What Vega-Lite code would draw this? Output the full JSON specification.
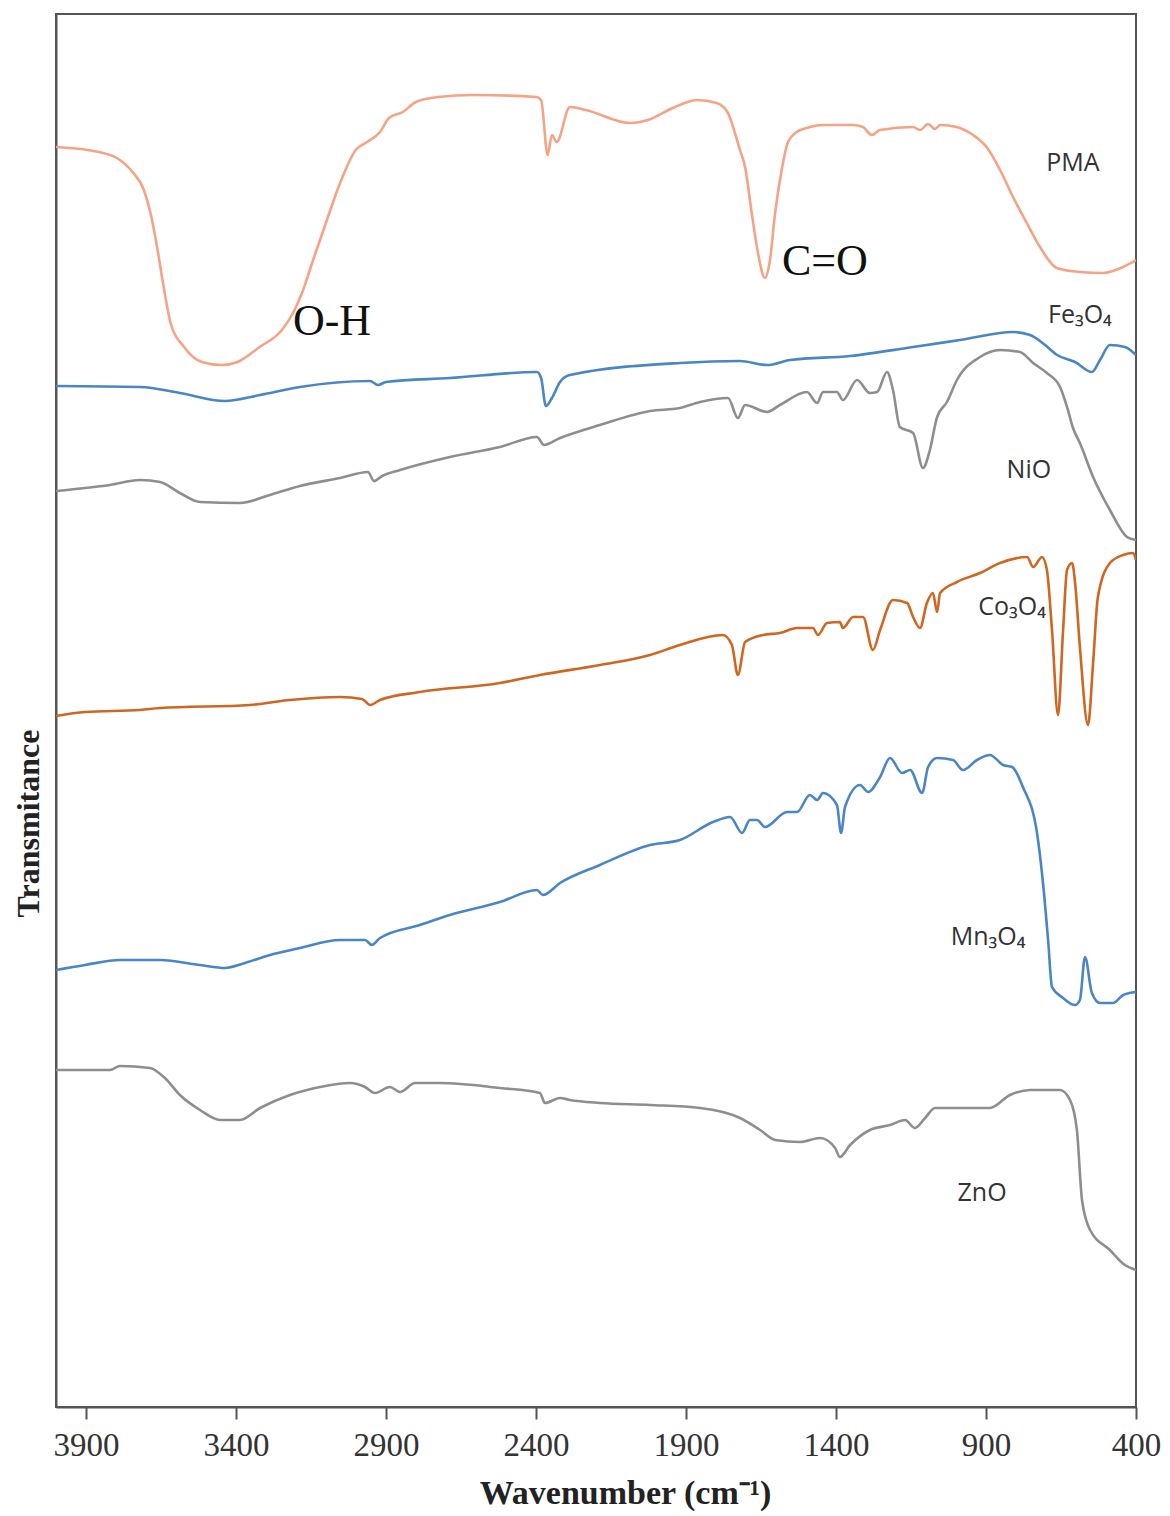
{
  "$schema": "https://vega.github.io/schema/vega-lite/v6.json",
  "width": 1080,
  "height": 1393,
  "autosize": "none",
  "padding": {"left": 56, "top": 14, "right": 34, "bottom": 109},
  "background": "white",
  "config": {
    "view": {"stroke": "#555555", "strokeWidth": 2},
    "axis": {"grid": false}
  },
  "datasets": {
    "spectra": [
      {"s":"PMA","w":4000,"v":1260},{"s":"PMA","w":3857,"v":1255},{"s":"PMA","w":3797,"v":1249},{"s":"PMA","w":3745,"v":1235},{"s":"PMA","w":3707,"v":1217},{"s":"PMA","w":3685,"v":1194},{"s":"PMA","w":3663,"v":1160},{"s":"PMA","w":3641,"v":1120},{"s":"PMA","w":3618,"v":1084},{"s":"PMA","w":3573,"v":1060},{"s":"PMA","w":3514,"v":1045},{"s":"PMA","w":3447,"v":1042},{"s":"PMA","w":3395,"v":1045},{"s":"PMA","w":3321,"v":1060},{"s":"PMA","w":3247,"v":1077},{"s":"PMA","w":3210,"v":1094},{"s":"PMA","w":3180,"v":1114},{"s":"PMA","w":3143,"v":1147},{"s":"PMA","w":3097,"v":1187},{"s":"PMA","w":3053,"v":1224},{"s":"PMA","w":3001,"v":1257},{"s":"PMA","w":2963,"v":1265},{"s":"PMA","w":2920,"v":1275},{"s":"PMA","w":2890,"v":1289},{"s":"PMA","w":2844,"v":1295},{"s":"PMA","w":2800,"v":1305},{"s":"PMA","w":2727,"v":1310},{"s":"PMA","w":2607,"v":1312},{"s":"PMA","w":2398,"v":1310},{"s":"PMA","w":2383,"v":1307},{"s":"PMA","w":2361,"v":1252},{"s":"PMA","w":2347,"v":1272},{"s":"PMA","w":2331,"v":1265},{"s":"PMA","w":2287,"v":1300},{"s":"PMA","w":2234,"v":1297},{"s":"PMA","w":2087,"v":1284},{"s":"PMA","w":2027,"v":1287},{"s":"PMA","w":1937,"v":1300},{"s":"PMA","w":1863,"v":1307},{"s":"PMA","w":1798,"v":1304},{"s":"PMA","w":1760,"v":1294},{"s":"PMA","w":1737,"v":1274},{"s":"PMA","w":1720,"v":1257},{"s":"PMA","w":1703,"v":1240},{"s":"PMA","w":1681,"v":1194},{"s":"PMA","w":1660,"v":1154},{"s":"PMA","w":1637,"v":1129},{"s":"PMA","w":1620,"v":1147},{"s":"PMA","w":1603,"v":1194},{"s":"PMA","w":1581,"v":1237},{"s":"PMA","w":1560,"v":1265},{"s":"PMA","w":1531,"v":1275},{"s":"PMA","w":1498,"v":1279},{"s":"PMA","w":1443,"v":1282},{"s":"PMA","w":1343,"v":1282},{"s":"PMA","w":1310,"v":1280},{"s":"PMA","w":1281,"v":1272},{"s":"PMA","w":1253,"v":1277},{"s":"PMA","w":1143,"v":1280},{"s":"PMA","w":1120,"v":1277},{"s":"PMA","w":1093,"v":1283},{"s":"PMA","w":1070,"v":1278},{"s":"PMA","w":1053,"v":1282},{"s":"PMA","w":998,"v":1280},{"s":"PMA","w":943,"v":1272},{"s":"PMA","w":898,"v":1260},{"s":"PMA","w":853,"v":1237},{"s":"PMA","w":810,"v":1210},{"s":"PMA","w":764,"v":1184},{"s":"PMA","w":720,"v":1160},{"s":"PMA","w":664,"v":1139},{"s":"PMA","w":587,"v":1135},{"s":"PMA","w":510,"v":1134},{"s":"PMA","w":443,"v":1140},{"s":"PMA","w":400,"v":1147},

      {"s":"Fe3O4","w":4000,"v":1021},{"s":"Fe3O4","w":3720,"v":1020},{"s":"Fe3O4","w":3587,"v":1014},{"s":"Fe3O4","w":3437,"v":1006},{"s":"Fe3O4","w":3320,"v":1012},{"s":"Fe3O4","w":3187,"v":1020},{"s":"Fe3O4","w":2953,"v":1026},{"s":"Fe3O4","w":2927,"v":1022},{"s":"Fe3O4","w":2900,"v":1025},{"s":"Fe3O4","w":2687,"v":1029},{"s":"Fe3O4","w":2397,"v":1035},{"s":"Fe3O4","w":2383,"v":1029},{"s":"Fe3O4","w":2367,"v":1001},{"s":"Fe3O4","w":2347,"v":1009},{"s":"Fe3O4","w":2320,"v":1025},{"s":"Fe3O4","w":2287,"v":1032},{"s":"Fe3O4","w":1920,"v":1044},{"s":"Fe3O4","w":1720,"v":1046},{"s":"Fe3O4","w":1630,"v":1042},{"s":"Fe3O4","w":1553,"v":1047},{"s":"Fe3O4","w":1353,"v":1051},{"s":"Fe3O4","w":1143,"v":1060},{"s":"Fe3O4","w":987,"v":1067},{"s":"Fe3O4","w":810,"v":1075},{"s":"Fe3O4","w":753,"v":1072},{"s":"Fe3O4","w":703,"v":1062},{"s":"Fe3O4","w":663,"v":1052},{"s":"Fe3O4","w":603,"v":1045},{"s":"Fe3O4","w":547,"v":1035},{"s":"Fe3O4","w":520,"v":1047},{"s":"Fe3O4","w":487,"v":1062},{"s":"Fe3O4","w":437,"v":1060},{"s":"Fe3O4","w":400,"v":1052},

      {"s":"NiO","w":4000,"v":916},{"s":"NiO","w":3820,"v":922},{"s":"NiO","w":3720,"v":927},{"s":"NiO","w":3653,"v":925},{"s":"NiO","w":3587,"v":914},{"s":"NiO","w":3520,"v":905},{"s":"NiO","w":3387,"v":904},{"s":"NiO","w":3287,"v":912},{"s":"NiO","w":3187,"v":921},{"s":"NiO","w":3053,"v":929},{"s":"NiO","w":2960,"v":935},{"s":"NiO","w":2940,"v":926},{"s":"NiO","w":2913,"v":931},{"s":"NiO","w":2853,"v":937},{"s":"NiO","w":2687,"v":950},{"s":"NiO","w":2520,"v":960},{"s":"NiO","w":2397,"v":970},{"s":"NiO","w":2373,"v":962},{"s":"NiO","w":2320,"v":969},{"s":"NiO","w":2187,"v":982},{"s":"NiO","w":2020,"v":996},{"s":"NiO","w":1920,"v":999},{"s":"NiO","w":1853,"v":1005},{"s":"NiO","w":1760,"v":1009},{"s":"NiO","w":1727,"v":989},{"s":"NiO","w":1703,"v":1002},{"s":"NiO","w":1630,"v":995},{"s":"NiO","w":1587,"v":1002},{"s":"NiO","w":1497,"v":1015},{"s":"NiO","w":1463,"v":1004},{"s":"NiO","w":1443,"v":1015},{"s":"NiO","w":1397,"v":1015},{"s":"NiO","w":1377,"v":1007},{"s":"NiO","w":1330,"v":1027},{"s":"NiO","w":1287,"v":1014},{"s":"NiO","w":1263,"v":1015},{"s":"NiO","w":1230,"v":1035},{"s":"NiO","w":1210,"v":1017},{"s":"NiO","w":1187,"v":980},{"s":"NiO","w":1143,"v":974},{"s":"NiO","w":1110,"v":939},{"s":"NiO","w":1087,"v":957},{"s":"NiO","w":1063,"v":990},{"s":"NiO","w":1030,"v":1005},{"s":"NiO","w":997,"v":1027},{"s":"NiO","w":920,"v":1050},{"s":"NiO","w":853,"v":1057},{"s":"NiO","w":787,"v":1055},{"s":"NiO","w":743,"v":1044},{"s":"NiO","w":697,"v":1034},{"s":"NiO","w":653,"v":1020},{"s":"NiO","w":627,"v":997},{"s":"NiO","w":610,"v":979},{"s":"NiO","w":587,"v":964},{"s":"NiO","w":543,"v":930},{"s":"NiO","w":487,"v":897},{"s":"NiO","w":430,"v":870},{"s":"NiO","w":400,"v":867},

      {"s":"Co3O4","w":4000,"v":691},{"s":"Co3O4","w":3903,"v":695},{"s":"Co3O4","w":3720,"v":697},{"s":"Co3O4","w":3653,"v":699},{"s":"Co3O4","w":3353,"v":702},{"s":"Co3O4","w":3220,"v":707},{"s":"Co3O4","w":3053,"v":710},{"s":"Co3O4","w":2980,"v":708},{"s":"Co3O4","w":2953,"v":702},{"s":"Co3O4","w":2920,"v":707},{"s":"Co3O4","w":2787,"v":715},{"s":"Co3O4","w":2520,"v":724},{"s":"Co3O4","w":2387,"v":732},{"s":"Co3O4","w":2187,"v":742},{"s":"Co3O4","w":2020,"v":752},{"s":"Co3O4","w":1920,"v":762},{"s":"Co3O4","w":1777,"v":772},{"s":"Co3O4","w":1747,"v":762},{"s":"Co3O4","w":1727,"v":732},{"s":"Co3O4","w":1703,"v":765},{"s":"Co3O4","w":1643,"v":772},{"s":"Co3O4","w":1587,"v":774},{"s":"Co3O4","w":1530,"v":779},{"s":"Co3O4","w":1477,"v":779},{"s":"Co3O4","w":1460,"v":772},{"s":"Co3O4","w":1430,"v":784},{"s":"Co3O4","w":1387,"v":785},{"s":"Co3O4","w":1377,"v":779},{"s":"Co3O4","w":1343,"v":790},{"s":"Co3O4","w":1310,"v":790},{"s":"Co3O4","w":1277,"v":757},{"s":"Co3O4","w":1253,"v":777},{"s":"Co3O4","w":1210,"v":807},{"s":"Co3O4","w":1163,"v":804},{"s":"Co3O4","w":1143,"v":790},{"s":"Co3O4","w":1120,"v":779},{"s":"Co3O4","w":1097,"v":804},{"s":"Co3O4","w":1077,"v":814},{"s":"Co3O4","w":1063,"v":795},{"s":"Co3O4","w":1053,"v":814},{"s":"Co3O4","w":997,"v":825},{"s":"Co3O4","w":920,"v":834},{"s":"Co3O4","w":853,"v":844},{"s":"Co3O4","w":763,"v":850},{"s":"Co3O4","w":743,"v":840},{"s":"Co3O4","w":713,"v":850},{"s":"Co3O4","w":697,"v":837},{"s":"Co3O4","w":680,"v":777},{"s":"Co3O4","w":660,"v":692},{"s":"Co3O4","w":643,"v":777},{"s":"Co3O4","w":630,"v":837},{"s":"Co3O4","w":613,"v":844},{"s":"Co3O4","w":603,"v":824},{"s":"Co3O4","w":587,"v":760},{"s":"Co3O4","w":560,"v":682},{"s":"Co3O4","w":543,"v":744},{"s":"Co3O4","w":527,"v":810},{"s":"Co3O4","w":487,"v":844},{"s":"Co3O4","w":443,"v":852},{"s":"Co3O4","w":410,"v":854},{"s":"Co3O4","w":400,"v":847},

      {"s":"Mn3O4","w":4000,"v":437},{"s":"Mn3O4","w":3903,"v":442},{"s":"Mn3O4","w":3787,"v":447},{"s":"Mn3O4","w":3653,"v":447},{"s":"Mn3O4","w":3520,"v":442},{"s":"Mn3O4","w":3437,"v":439},{"s":"Mn3O4","w":3370,"v":444},{"s":"Mn3O4","w":3287,"v":452},{"s":"Mn3O4","w":3187,"v":459},{"s":"Mn3O4","w":3053,"v":467},{"s":"Mn3O4","w":2970,"v":467},{"s":"Mn3O4","w":2947,"v":462},{"s":"Mn3O4","w":2920,"v":469},{"s":"Mn3O4","w":2787,"v":482},{"s":"Mn3O4","w":2687,"v":492},{"s":"Mn3O4","w":2520,"v":505},{"s":"Mn3O4","w":2397,"v":517},{"s":"Mn3O4","w":2377,"v":512},{"s":"Mn3O4","w":2320,"v":524},{"s":"Mn3O4","w":2187,"v":542},{"s":"Mn3O4","w":2020,"v":562},{"s":"Mn3O4","w":1920,"v":567},{"s":"Mn3O4","w":1810,"v":585},{"s":"Mn3O4","w":1753,"v":590},{"s":"Mn3O4","w":1713,"v":574},{"s":"Mn3O4","w":1687,"v":587},{"s":"Mn3O4","w":1663,"v":587},{"s":"Mn3O4","w":1637,"v":580},{"s":"Mn3O4","w":1563,"v":595},{"s":"Mn3O4","w":1530,"v":595},{"s":"Mn3O4","w":1487,"v":612},{"s":"Mn3O4","w":1463,"v":607},{"s":"Mn3O4","w":1443,"v":614},{"s":"Mn3O4","w":1397,"v":602},{"s":"Mn3O4","w":1383,"v":574},{"s":"Mn3O4","w":1370,"v":600},{"s":"Mn3O4","w":1320,"v":622},{"s":"Mn3O4","w":1293,"v":615},{"s":"Mn3O4","w":1253,"v":630},{"s":"Mn3O4","w":1220,"v":649},{"s":"Mn3O4","w":1180,"v":634},{"s":"Mn3O4","w":1153,"v":637},{"s":"Mn3O4","w":1113,"v":614},{"s":"Mn3O4","w":1093,"v":640},{"s":"Mn3O4","w":1063,"v":649},{"s":"Mn3O4","w":1010,"v":647},{"s":"Mn3O4","w":977,"v":637},{"s":"Mn3O4","w":930,"v":647},{"s":"Mn3O4","w":887,"v":652},{"s":"Mn3O4","w":843,"v":642},{"s":"Mn3O4","w":813,"v":640},{"s":"Mn3O4","w":777,"v":620},{"s":"Mn3O4","w":730,"v":574},{"s":"Mn3O4","w":710,"v":524},{"s":"Mn3O4","w":693,"v":467},{"s":"Mn3O4","w":680,"v":420},{"s":"Mn3O4","w":643,"v":409},{"s":"Mn3O4","w":603,"v":402},{"s":"Mn3O4","w":587,"v":407},{"s":"Mn3O4","w":570,"v":450},{"s":"Mn3O4","w":547,"v":414},{"s":"Mn3O4","w":520,"v":404},{"s":"Mn3O4","w":477,"v":404},{"s":"Mn3O4","w":443,"v":412},{"s":"Mn3O4","w":400,"v":415},

      {"s":"ZnO","w":4000,"v":337},{"s":"ZnO","w":3820,"v":337},{"s":"ZnO","w":3787,"v":341},{"s":"ZnO","w":3687,"v":339},{"s":"ZnO","w":3637,"v":329},{"s":"ZnO","w":3587,"v":312},{"s":"ZnO","w":3520,"v":297},{"s":"ZnO","w":3453,"v":287},{"s":"ZnO","w":3387,"v":287},{"s":"ZnO","w":3320,"v":299},{"s":"ZnO","w":3220,"v":312},{"s":"ZnO","w":3120,"v":320},{"s":"ZnO","w":3020,"v":324},{"s":"ZnO","w":2970,"v":320},{"s":"ZnO","w":2937,"v":314},{"s":"ZnO","w":2887,"v":320},{"s":"ZnO","w":2853,"v":315},{"s":"ZnO","w":2803,"v":324},{"s":"ZnO","w":2720,"v":324},{"s":"ZnO","w":2520,"v":319},{"s":"ZnO","w":2387,"v":314},{"s":"ZnO","w":2370,"v":304},{"s":"ZnO","w":2320,"v":309},{"s":"ZnO","w":2287,"v":307},{"s":"ZnO","w":2187,"v":304},{"s":"ZnO","w":2020,"v":302},{"s":"ZnO","w":1853,"v":299},{"s":"ZnO","w":1720,"v":289},{"s":"ZnO","w":1653,"v":277},{"s":"ZnO","w":1603,"v":267},{"s":"ZnO","w":1520,"v":265},{"s":"ZnO","w":1453,"v":269},{"s":"ZnO","w":1403,"v":259},{"s":"ZnO","w":1387,"v":250},{"s":"ZnO","w":1353,"v":262},{"s":"ZnO","w":1287,"v":277},{"s":"ZnO","w":1220,"v":282},{"s":"ZnO","w":1170,"v":287},{"s":"ZnO","w":1137,"v":279},{"s":"ZnO","w":1103,"v":289},{"s":"ZnO","w":1070,"v":299},{"s":"ZnO","w":887,"v":299},{"s":"ZnO","w":820,"v":312},{"s":"ZnO","w":753,"v":317},{"s":"ZnO","w":653,"v":317},{"s":"ZnO","w":620,"v":307},{"s":"ZnO","w":597,"v":277},{"s":"ZnO","w":580,"v":207},{"s":"ZnO","w":553,"v":177},{"s":"ZnO","w":487,"v":157},{"s":"ZnO","w":437,"v":142},{"s":"ZnO","w":400,"v":137}
    ],
    "names": [
      {"t":"PMA","w":610,"v":1244},
      {"t":"Fe₃O₄","w":587,"v":1092},
      {"t":"NiO","w":757,"v":937},
      {"t":"Co₃O₄","w":813,"v":800},
      {"t":"Mn₃O₄","w":893,"v":470},
      {"t":"ZnO","w":913,"v":214}
    ],
    "bonds": [
      {"t":"O-H","w":3080,"v":1085},
      {"t":"C=O","w":1437,"v":1145}
    ]
  },
  "layer": [
    {
      "data": {"name": "spectra"},
      "mark": {"type": "line", "strokeWidth": 2.6, "strokeJoin": "round", "interpolate": "monotone", "clip": true},
      "encoding": {
        "x": {
          "field": "w", "type": "quantitative",
          "scale": {"domain": [4000, 400], "nice": false, "zero": false},
          "axis": {
            "values": [3900, 3400, 2900, 2400, 1900, 1400, 900, 400],
            "format": "d",
            "title": "Wavenumber  (cm⁻¹)",
            "titleFont": "Liberation Serif", "titleFontSize": 34, "titleFontWeight": "bold", "titleColor": "#222222",
            "titlePadding": 14, "titleX": 569,
            "labelFont": "Liberation Serif", "labelFontSize": 33, "labelColor": "#333333",
            "labelPadding": 10, "labelFlush": false,
            "tickSize": 12, "tickWidth": 2, "tickColor": "#555555",
            "domainColor": "#555555", "domainWidth": 2, "grid": false
          }
        },
        "y": {
          "field": "v", "type": "quantitative",
          "scale": {"domain": [0, 1393], "nice": false, "zero": false},
          "axis": {
            "title": "Transmitance", "labels": false, "ticks": false,
            "titleFont": "Liberation Serif", "titleFontSize": 32, "titleFontWeight": "bold", "titleColor": "#222222",
            "titleX": -28, "titleY": 809, "titleAngle": -90, "titleBaseline": "middle", "titleAlign": "center",
            "domainColor": "#555555", "domainWidth": 2, "grid": false
          }
        },
        "color": {
          "field": "s", "type": "nominal", "legend": null,
          "scale": {
            "domain": ["PMA", "Fe3O4", "NiO", "Co3O4", "Mn3O4", "ZnO"],
            "range": ["#F4A385", "#4A86C6", "#8E8E8E", "#CF6622", "#4A86C6", "#8E8E8E"]
          }
        },
        "detail": {"field": "s"}
      }
    },
    {
      "data": {"name": "names"},
      "mark": {"type": "text", "font": "Open Sans", "fontSize": 25, "color": "#333333", "align": "center", "baseline": "middle"},
      "encoding": {
        "x": {"field": "w", "type": "quantitative"},
        "y": {"field": "v", "type": "quantitative"},
        "text": {"field": "t"}
      }
    },
    {
      "data": {"name": "bonds"},
      "mark": {"type": "text", "font": "Liberation Serif", "fontSize": 44, "color": "#111111", "align": "center", "baseline": "middle"},
      "encoding": {
        "x": {"field": "w", "type": "quantitative"},
        "y": {"field": "v", "type": "quantitative"},
        "text": {"field": "t"}
      }
    }
  ]
}
